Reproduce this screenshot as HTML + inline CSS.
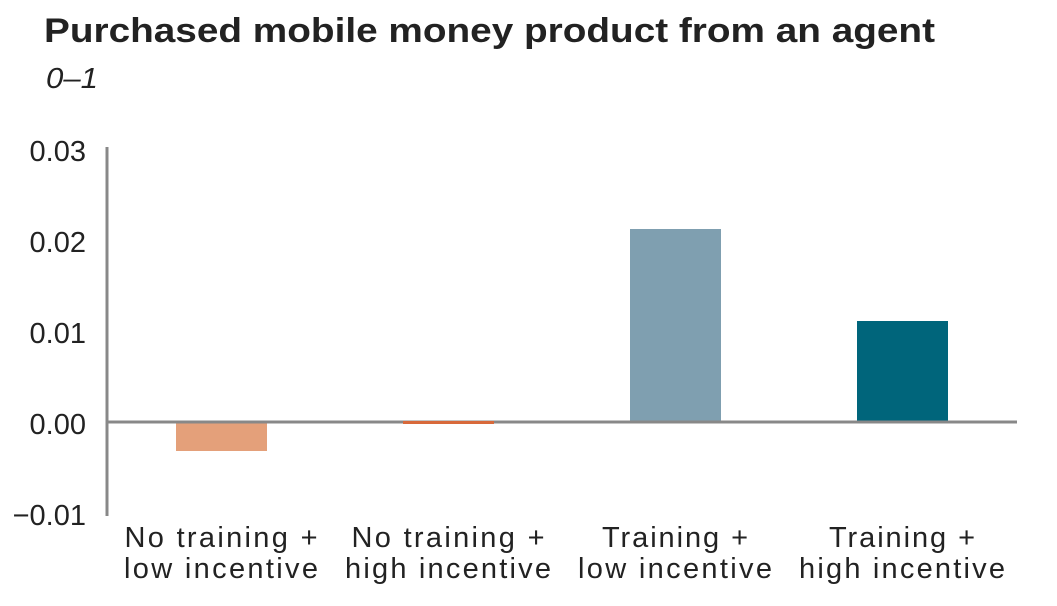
<!DOCTYPE html>
<html><head><meta charset="utf-8"><style>
html,body{margin:0;padding:0;background:#fff;}
svg{display:block;font-family:"Liberation Sans",sans-serif;}
</style></head><body>
<svg width="1057" height="606" viewBox="0 0 1057 606" xmlns="http://www.w3.org/2000/svg">
<text x="44" y="42" font-size="34" font-weight="bold" fill="#222" textLength="891" lengthAdjust="spacingAndGlyphs">Purchased mobile money product from an agent</text>
<text x="46" y="88" font-size="29" font-style="italic" fill="#222" textLength="52" lengthAdjust="spacingAndGlyphs">0–1</text>
<g font-size="29" fill="#222" text-anchor="end">
<text x="86" y="161">0.03</text>
<text x="86" y="252">0.02</text>
<text x="86" y="343">0.01</text>
<text x="86" y="434">0.00</text>
<text x="86" y="525">−0.01</text>
</g>
<rect x="176" y="422" width="91" height="29" fill="#E4A07A"/>
<rect x="630" y="229" width="91" height="193" fill="#7F9FB0"/>
<rect x="857" y="321" width="91" height="101" fill="#00657B"/>
<line x1="107" y1="147" x2="107" y2="516" stroke="#888" stroke-width="3"/>
<line x1="106" y1="422" x2="1017" y2="422" stroke="#888" stroke-width="3"/>
<rect x="403" y="421" width="91" height="3" fill="#D8693A"/>
<g font-size="29" fill="#222" text-anchor="middle" lengthAdjust="spacingAndGlyphs">
<text x="221" y="547" textLength="193">No training +</text><text x="221" y="578" textLength="194">low incentive</text>
<text x="448" y="547" textLength="193">No training +</text><text x="448" y="578" textLength="206">high incentive</text>
<text x="675" y="547" textLength="146">Training +</text><text x="675" y="578" textLength="194">low incentive</text>
<text x="902" y="547" textLength="146">Training +</text><text x="902" y="578" textLength="206">high incentive</text>
</g>
</svg>
</body></html>
